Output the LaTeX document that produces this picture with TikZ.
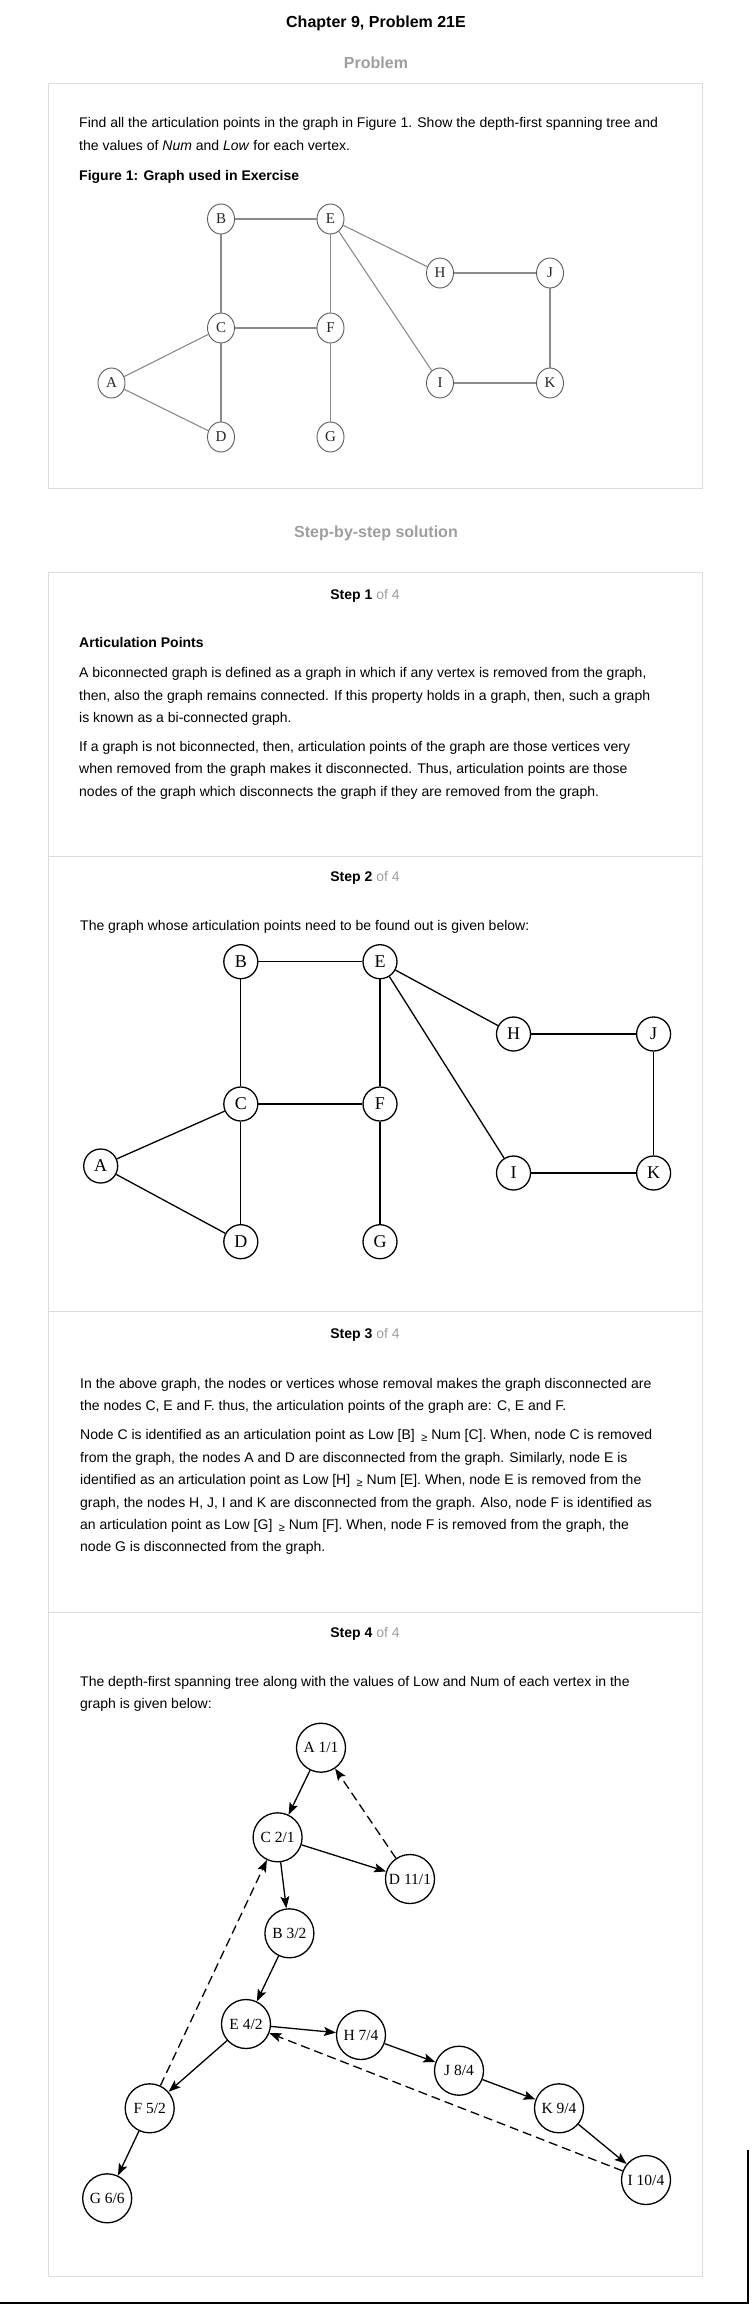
\documentclass[tikz,border=0pt]{standalone}
\usepackage{fontspec}
\setmainfont{Liberation Sans}
\newfontfamily\tms{Liberation Serif}
\usetikzlibrary{arrows.meta,shapes.geometric}
\definecolor{hdgray}{HTML}{9E9E9E}
\definecolor{framegray}{HTML}{DDDDDD}
\definecolor{edgegray}{HTML}{8A8A8A}
\definecolor{nodegray}{HTML}{5A5A5A}
\newcommand{\geqs}{\hspace{6.5pt}\raisebox{-1.5pt}{\fontsize{11}{11}\selectfont ≥}}
\begin{document}
\begin{tikzpicture}[x=1pt,y=-1pt,
  body/.style={anchor=base west, inner sep=0pt, font=\fontsize{14}{16}\selectfont},
  bodyb/.style={body, font=\fontsize{14}{16}\selectfont\bfseries},
  title/.style={anchor=base, inner sep=0pt, font=\fontsize{16}{18}\selectfont\bfseries},
  head/.style={title, text=hdgray},
  stephead/.style={anchor=base, inner sep=0pt, font=\fontsize{14}{16}\selectfont},
  frame/.style={draw=framegray, line width=1pt},
  gA/.style={ellipse, draw=nodegray, line width=0.9pt, minimum width=27pt, minimum height=30pt, inner sep=0pt, font=\tms\fontsize{15}{15}\selectfont, text=black!85},
  eA/.style={draw=edgegray, line width=1.1pt},
  gB/.style={circle, draw=black, line width=1.3pt, minimum size=34pt, inner sep=0pt, font=\tms\fontsize{18}{18}\selectfont},
  eB/.style={draw=black, line width=1.3pt},
  tn/.style={circle, draw=black, line width=1.3pt, minimum size=49pt, inner sep=0pt, font=\tms\fontsize{15.5}{15.5}\selectfont},
  tarrow/.style={draw=black, line width=1.3pt, -{Stealth[length=12pt,width=9pt,inset=2.5pt]}},
  tdash/.style={tarrow, dash pattern=on 9pt off 5pt}
]
\useasboundingbox (0,0) rectangle (752,2304);
\fill[white] (0,0) rectangle (752,2304);

% titles
\node[title] (t0) at (376,27.5) {Chapter 9, Problem 21E};
\node[head] (t1) at (376,69) {Problem};

% problem box
\draw[frame] (48,84) rectangle (702,488);
\node[body] (p1) at (79,127.5) {Find all the articulation points in the graph in Figure 1. Show the depth-first spanning tree and};
\node[body] (p2) at (79,150) {the values of \textit{Num} and \textit{Low} for each vertex.};
\node[bodyb] (p3) at (79,180) {Figure 1: Graph used in Exercise};

% graph 1
\node[gA] (aB) at (221,219) {B};
\node[gA] (aE) at (330.5,219) {E};
\node[gA] (aH) at (440,273) {H};
\node[gA] (aJ) at (550,273) {J};
\node[gA] (aC) at (221,328) {C};
\node[gA] (aF) at (330.5,328) {F};
\node[gA] (aA) at (111.5,383) {A};
\node[gA] (aI) at (440,383) {I};
\node[gA] (aK) at (550,383) {K};
\node[gA] (aD) at (221,437) {D};
\node[gA] (aG) at (330.5,437) {G};
\draw[eA] (aB) -- (aE);
\draw[eA] (aB) -- (aC);
\draw[eA] (aE) -- (aF);
\draw[eA] (aE) -- (aH);
\draw[eA] (aE) -- (aI);
\draw[eA] (aH) -- (aJ);
\draw[eA] (aJ) -- (aK);
\draw[eA] (aI) -- (aK);
\draw[eA] (aC) -- (aF);
\draw[eA] (aC) -- (aA);
\draw[eA] (aC) -- (aD);
\draw[eA] (aA) -- (aD);
\draw[eA] (aF) -- (aG);

% solution heading
\node[head] (t2) at (376,537.5) {Step-by-step solution};

% solution frame
\draw[frame] (48,572) rectangle (702,2276);
\draw[frame] (48,856) -- (702,856);
\draw[frame] (48,1311) -- (702,1311);
\draw[frame] (48,1612) -- (702,1612);

% step 1
\node[stephead] (s1) at (365,599.5) {\textbf{Step 1} \textcolor{hdgray}{of 4}};
\node[bodyb] (s1a) at (79,647.5) {Articulation Points};
\node[body] (s1b) at (79,677.5) {A biconnected graph is defined as a graph in which if any vertex is removed from the graph,};
\node[body] (s1c) at (79,700) {then, also the graph remains connected. If this property holds in a graph, then, such a graph};
\node[body] (s1d) at (79,722.5) {is known as a bi-connected graph.};
\node[body] (s1e) at (79,751.5) {If a graph is not biconnected, then, articulation points of the graph are those vertices very};
\node[body] (s1f) at (79,773.5) {when removed from the graph makes it disconnected. Thus, articulation points are those};
\node[body] (s1g) at (79,796.5) {nodes of the graph which disconnects the graph if they are removed from the graph.};

% step 2
\node[stephead] (s2) at (365,881.5) {\textbf{Step 2} \textcolor{hdgray}{of 4}};
\node[body] (s2a) at (80,930) {The graph whose articulation points need to be found out is given below:};
\node[gB] (bB) at (240.8,961.7) {B};
\node[gB] (bE) at (380,961.7) {E};
\node[gB] (bH) at (513.5,1034) {H};
\node[gB] (bJ) at (653.6,1034) {J};
\node[gB] (bC) at (240.8,1104) {C};
\node[gB] (bF) at (380,1104) {F};
\node[gB] (bA) at (100.7,1166) {A};
\node[gB] (bI) at (513.5,1173) {I};
\node[gB] (bK) at (653.6,1173) {K};
\node[gB] (bD) at (240.8,1241.7) {D};
\node[gB] (bG) at (380,1241.7) {G};
\draw[eB] (bB) -- (bE);
\draw[eB] (bB) -- (bC);
\draw[eB] (bE) -- (bF);
\draw[eB] (bE) -- (bH);
\draw[eB] (bE) -- (bI);
\draw[eB] (bH) -- (bJ);
\draw[eB] (bJ) -- (bK);
\draw[eB] (bI) -- (bK);
\draw[eB] (bC) -- (bF);
\draw[eB] (bC) -- (bA);
\draw[eB] (bC) -- (bD);
\draw[eB] (bA) -- (bD);
\draw[eB] (bF) -- (bG);

% step 3
\node[stephead] (s3) at (365,1338.5) {\textbf{Step 3} \textcolor{hdgray}{of 4}};
\node[body] (s3a) at (80,1388.5) {In the above graph, the nodes or vertices whose removal makes the graph disconnected are};
\node[body] (s3b) at (80,1410.5) {the nodes C, E and F. thus, the articulation points of the graph are: C, E and F.};
\node[body] (s3c) at (80,1439.8) {Node C is identified as an articulation point as Low [B]\geqs{} Num [C]. When, node C is removed};
\node[body] (s3d) at (80,1462.2) {from the graph, the nodes A and D are disconnected from the graph. Similarly, node E is};
\node[body] (s3e) at (80,1484.8) {identified as an articulation point as Low [H]\geqs{} Num [E]. When, node E is removed from the};
\node[body] (s3f) at (80,1507.5) {graph, the nodes H, J, I and K are disconnected from the graph. Also, node F is identified as};
\node[body] (s3g) at (80,1529.5) {an articulation point as Low [G]\geqs{} Num [F]. When, node F is removed from the graph, the};
\node[body] (s3h) at (80,1551.8) {node G is disconnected from the graph.};

% step 4
\node[stephead] (s4) at (365,1637.8) {\textbf{Step 4} \textcolor{hdgray}{of 4}};
\node[body] (s4a) at (80,1686.8) {The depth-first spanning tree along with the values of Low and Num of each vertex in the};
\node[body] (s4b) at (80,1708.8) {graph is given below:};
\node[tn] (tA) at (321,1747.7) {A 1/1};
\node[tn] (tC) at (277.6,1837.3) {C 2/1};
\node[tn] (tD) at (410,1879) {D 11/1};
\node[tn] (tB) at (289.4,1933.3) {B 3/2};
\node[tn] (tE) at (246,2024) {E 4/2};
\node[tn] (tH) at (361,2035) {H 7/4};
\node[tn] (tJ) at (459,2070.7) {J 8/4};
\node[tn] (tK) at (559,2108.3) {K 9/4};
\node[tn] (tI) at (646,2180) {I 10/4};
\node[tn] (tF) at (149.7,2108.3) {F 5/2};
\node[tn] (tG) at (107.2,2198.3) {G 6/6};
\draw[tarrow] (tA) -- (tC);
\draw[tarrow] (tC) -- (tD);
\draw[tarrow] (tC) -- (tB);
\draw[tarrow] (tB) -- (tE);
\draw[tarrow] (tE) -- (tH);
\draw[tarrow] (tH) -- (tJ);
\draw[tarrow] (tJ) -- (tK);
\draw[tarrow] (tK) -- (tI);
\draw[tarrow] (tE) -- (tF);
\draw[tarrow] (tF) -- (tG);
\draw[tdash] (tD) -- (tA);
\draw[tdash] (tF) -- (tC);
\draw[tdash] (tI) -- (tE);

% page edge lines
\coordinate (br) at (748,2303);
\coordinate (bl) at (0,2303);
\coordinate (tr) at (748,2150);
\draw[black, line width=1.2pt] (bl) -- (br) -- (tr);
\end{tikzpicture}
\end{document}
